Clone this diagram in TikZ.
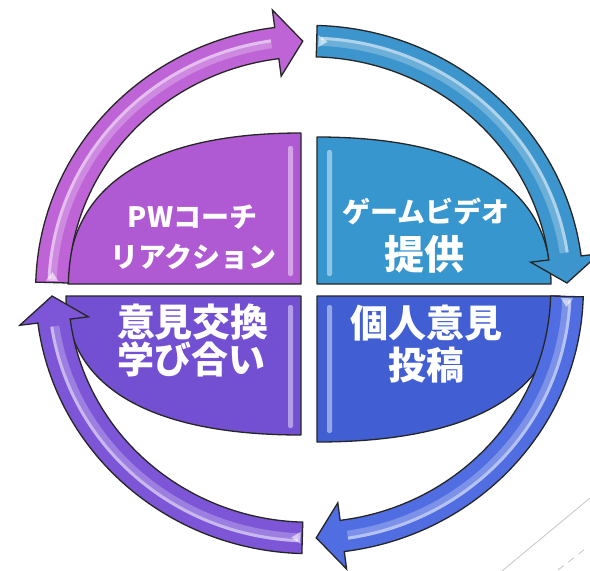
\documentclass[tikz,border=0pt]{standalone}
\usepackage{fontspec}
\newfontfamily\jp{Noto Sans CJK JP}
\definecolor{cTLs}{HTML}{AF5AD2}
\definecolor{cTRs}{HTML}{3796CD}
\definecolor{cBRs}{HTML}{415FD2}
\definecolor{cBLs}{HTML}{7350D2}
\definecolor{cTLa}{HTML}{BE64D7}
\definecolor{cTRa}{HTML}{3C96CD}
\definecolor{cBRa}{HTML}{506EE1}
\definecolor{cBLa}{HTML}{7D55D7}
\tikzset{
  quad/.style={draw=black!85, line width=1.3pt, line join=round},
  arr/.style={draw=black!85, line width=1.3pt, line join=miter},
  bevel/.style={fill=white, fill opacity=0.45, draw=none},
  shine/.style={draw=white, draw opacity=0.45, line width=3pt},
  shine2/.style={draw=white, draw opacity=0.25, line width=9pt},
  chev/.style={fill=white, fill opacity=0.6, draw=none},
  lbl/.style={text=white, anchor=base, inner sep=0pt, font=\jp\bfseries},
  faint/.style={draw=black!22, line width=0.8pt}
}
\begin{document}
\begin{tikzpicture}[x=1pt, y=1pt]
\useasboundingbox (0,0) rectangle (590,-571);
\fill[white] (0,0) rectangle (590,-571);
% quadrant shapes
\path[quad, fill=cTLs] (301,-284) -- (68,-284) .. controls (68,-186) and (149.5,-133) .. (301,-133) -- cycle;
\path[quad, fill=cTRs] (317,-284) -- (317,-137) .. controls (469,-137) and (551,-188.5) .. (551,-284) -- cycle;
\path[quad, fill=cBRs] (317,-296) -- (560,-296) .. controls (560,-391) and (475,-442) .. (317,-442) -- cycle;
\path[quad, fill=cBLs] (301,-296) -- (301,-435) .. controls (149.5,-435) and (66,-386) .. (66,-296) -- cycle;
% bevel strips
\path[bevel, rounded corners=2pt] (288,-146) rectangle (293,-276);
\path[bevel, rounded corners=2pt] (327,-150) rectangle (332,-276);
\path[bevel, rounded corners=2pt] (327,-305) rectangle (332,-433);
\path[bevel, rounded corners=2pt] (288,-305) rectangle (293,-428);
% arrows
\begin{scope}[shift={(309.5,-289.5)}, xscale=1.018, yscale=0.982]
  % top-left
  \path[arr, fill=cTLa] (178.4:269) arc[start angle=178.4, end angle=97.3, radius=269]
    -- (97.3:287) -- (91.5:253) -- (97.3:219) -- (97.3:237)
    arc[start angle=97.3, end angle=178.4, radius=237] -- cycle;
  \draw[shine2] (177.5:253) arc[start angle=177.5, end angle=98.5, radius=253];
  \draw[shine] (177.5:256) arc[start angle=177.5, end angle=98.5, radius=256];
  \path[chev] (178.0:247) -- (178.0:259) -- (176.0:253) -- cycle;
  % top-right
  \path[arr, fill=cTRa] (88.4:269) arc[start angle=88.4, end angle=7.3, radius=269]
    -- (7.3:287) -- (1.5:253) -- (7.3:219) -- (7.3:237)
    arc[start angle=7.3, end angle=88.4, radius=237] -- cycle;
  \draw[shine2] (87.5:253) arc[start angle=87.5, end angle=8.5, radius=253];
  \draw[shine] (87.5:256) arc[start angle=87.5, end angle=8.5, radius=256];
  \path[chev] (88.0:247) -- (88.0:259) -- (86.0:253) -- cycle;
  % bottom-right
  \path[arr, fill=cBRa] (-1.6:269) arc[start angle=-1.6, end angle=-82.7, radius=269]
    -- (-82.7:287) -- (-88.5:253) -- (-82.7:219) -- (-82.7:237)
    arc[start angle=-82.7, end angle=-1.6, radius=237] -- cycle;
  \draw[shine2] (-2.5:253) arc[start angle=-2.5, end angle=-81.5, radius=253];
  \draw[shine] (-2.5:256) arc[start angle=-2.5, end angle=-81.5, radius=256];
  \path[chev] (-2.0:247) -- (-2.0:259) -- (-4.0:253) -- cycle;
  % bottom-left
  \path[arr, fill=cBLa] (-91.6:269) arc[start angle=-91.6, end angle=-172.7, radius=269]
    -- (-172.7:287) -- (-178.5:253) -- (-172.7:219) -- (-172.7:237)
    arc[start angle=-172.7, end angle=-91.6, radius=237] -- cycle;
  \draw[shine2] (-92.5:253) arc[start angle=-92.5, end angle=-171.5, radius=253];
  \draw[shine] (-92.5:256) arc[start angle=-92.5, end angle=-171.5, radius=256];
  \path[chev] (-92.0:247) -- (-92.0:259) -- (-94.0:253) -- cycle;
\end{scope}
% labels
\node[lbl, font=\jp\bfseries\fontsize{28}{28}\selectfont] (tl1) at (192.5,-227.4) {PWコーチ};
\node[lbl, font=\jp\bfseries\fontsize{28}{28}\selectfont] (tl2) at (193.5,-267.4) {リアクション};
\node[lbl, font=\jp\bfseries\fontsize{28}{28}\selectfont] (tr1) at (426,-222.4) {ゲームビデオ};
\node[lbl, font=\jp\bfseries\fontsize{40}{40}\selectfont] (tr2) at (424.5,-269.8) {提供};
\node[lbl, font=\jp\bfseries\fontsize{38}{38}\selectfont] (br1) at (426,-337) {個人意見};
\node[lbl, font=\jp\bfseries\fontsize{38}{38}\selectfont] (br2) at (426,-379) {投稿};
\node[lbl, font=\jp\bfseries\fontsize{38}{38}\selectfont] (bl1) at (193,-336) {意見交換};
\node[lbl, font=\jp\bfseries\fontsize{37}{37}\selectfont] (bl2) at (191.5,-373.5) {学び合い};
% faint slide lines
\draw[faint] (502,-571) -- (590,-498);
\draw[faint, dash pattern=on 7pt off 6pt] (558,-570) -- (589,-546);
\end{tikzpicture}
\end{document}
